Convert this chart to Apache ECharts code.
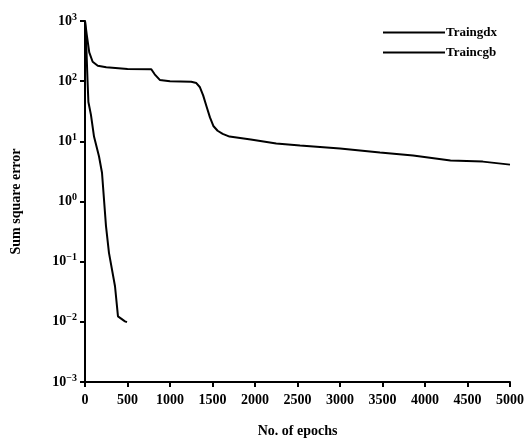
<!DOCTYPE html>
<html lang="en">
<head>
    <meta charset="UTF-8">
    <title>Sum square error</title>
    <script src="https://cdn.jsdelivr.net/npm/echarts@6/dist/echarts.min.js"></script>
    <style>
        html, body { margin: 0; padding: 0; background: #fff; }
        #container { width: 532px; height: 443px; }
    </style>
</head>
<body>
<div id="container"></div>
<script>
    var seriesNames = ['Traingdx', 'Traincgb'];

    // [epoch, sum square error]
    var traingdx = [
        [0, 1000], [20, 600], [50, 300], [90, 210], [150, 180], [250, 170],
        [500, 160], [780, 158], [820, 130], [880, 105], [1000, 100], [1250, 98],
        [1310, 93], [1350, 80], [1390, 58], [1430, 38], [1470, 25], [1510, 18],
        [1560, 15], [1620, 13.3], [1700, 12], [1950, 10.7], [2250, 9.2],
        [2530, 8.5], [3000, 7.6], [3470, 6.5], [3860, 5.8], [4300, 4.8],
        [4680, 4.6], [5000, 4.1]
    ];
    var traincgb = [
        [0, 1000], [15, 400], [30, 100], [40, 45], [70, 27.5], [106, 12],
        [165, 5.6], [200, 3.0], [247, 0.39], [282, 0.14], [353, 0.039],
        [388, 0.0123], [470, 0.0102], [494, 0.0099]
    ];

    var xMin = 0, xMax = 5000, xStep = 500;
    var yMin = 0.001, yMax = 1000;

    var font = '"Liberation Serif", "DejaVu Serif", serif';

    var myChart = echarts.init(document.getElementById('container'));

    myChart.setOption({
        backgroundColor: '#fff',
        animation: false,
        grid: { left: 85, right: 22, top: 21, bottom: 60 },
        legend: {
            left: 378,
            top: 21,
            orient: 'vertical',
            icon: 'rect',
            itemWidth: 62,
            itemHeight: 2,
            itemGap: 7,
            data: seriesNames,
            textStyle: { fontFamily: font, fontWeight: 'bold', fontSize: 13, color: '#000', padding: [0, 0, 0, -4] }
        },
        xAxis: {
            type: 'value',
            min: xMin,
            max: xMax,
            interval: xStep,
            name: 'No. of epochs',
            nameLocation: 'middle',
            nameGap: 42,
            nameTextStyle: { fontFamily: font, fontWeight: 'bold', fontSize: 14, color: '#000' },
            axisLine: { lineStyle: { color: '#000', width: 2 } },
            axisTick: { inside: false, length: 5, lineStyle: { color: '#000', width: 2 } },
            axisLabel: {
                fontFamily: font, fontWeight: 'bold', fontSize: 14, color: '#000', margin: 11,
                formatter: function (v) { return String(v); }
            },
            splitLine: { show: false }
        },
        yAxis: {
            type: 'log',
            logBase: 10,
            min: yMin,
            max: yMax,
            name: 'Sum square error',
            nameLocation: 'middle',
            nameGap: 62,
            nameTextStyle: { fontFamily: font, fontWeight: 'bold', fontSize: 14, color: '#000' },
            axisLine: { lineStyle: { color: '#000', width: 2 } },
            axisTick: { length: 5, lineStyle: { color: '#000', width: 2 } },
            axisLabel: {
                margin: 8,
                formatter: function (v) {
                    var e = Math.round(Math.log10(v));
                    return '{b|10}{s|' + (e < 0 ? '\u2212' + (-e) : e) + '}';
                },
                rich: {
                    b: { fontFamily: font, fontWeight: 'bold', fontSize: 14, color: '#000' },
                    s: { fontFamily: font, fontWeight: 'bold', fontSize: 10, color: '#000', verticalAlign: 'top', padding: [0, 0, 8, 0] }
                }
            },
            splitLine: { show: false }
        },
        series: [
            {
                name: seriesNames[0],
                type: 'line',
                symbol: 'none',
                data: traingdx,
                lineStyle: { color: '#000', width: 2 },
                itemStyle: { color: '#000' }
            },
            {
                name: seriesNames[1],
                type: 'line',
                symbol: 'none',
                data: traincgb,
                lineStyle: { color: '#000', width: 2 },
                itemStyle: { color: '#000' }
            }
        ]
    });
</script>
</body>
</html>
